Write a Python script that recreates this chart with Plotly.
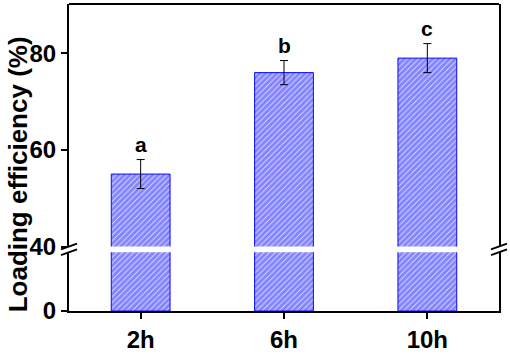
import plotly.graph_objects as go

categories = ["2h", "6h", "10h"]
values = [55, 76, 79]
err_plus = [3, 2.5, 3]
err_minus = [3, 2.5, 3]
letters = ["a", "b", "c"]
upper_ticks = [40, 60, 80]
lower_ticks = [0]

BLUE = "#0a0aff"
FONT = "Liberation Sans"

W, H = 510, 357
L, R, T, B = 69, 11, 4, 34
pw, ph = W - L - R, H - T - B

def px_x(x):
    return (x - L) / pw

def px_y(y):
    return (H - B - y) / ph

lower_dom = [0, px_y(262)]
upper_dom = [px_y(256), 1]

pattern = dict(shape="/", fgcolor=BLUE, bgcolor="white", size=4, solidity=0.85)

fig = go.Figure()
fig.add_trace(go.Bar(
    x=categories, y=values, xaxis="x", yaxis="y", width=0.41,
    marker=dict(color="white", pattern=pattern, line=dict(color=BLUE, width=1)),
    showlegend=False, hoverinfo="skip",
))
fig.add_trace(go.Bar(
    x=categories, y=values, xaxis="x2", yaxis="y2", width=0.41,
    marker=dict(color="white", pattern=pattern, line=dict(color=BLUE, width=1)),
    error_y=dict(type="data", symmetric=False, array=err_plus, arrayminus=err_minus,
                 color="black", thickness=1, width=4),
    showlegend=False, hoverinfo="skip",
))

for c, v, e, t in zip(categories, values, err_plus, letters):
    fig.add_annotation(x=c, y=v + e, xref="x2", yref="y2", text=t, showarrow=False,
                       yanchor="bottom", yshift=2,
                       font=dict(family=FONT, size=21, color="black", weight="bold"))

fig.add_annotation(x=px_x(18), y=px_y(181), xref="paper", yref="paper",
                   text="Loading efficiency (%)", textangle=-90, showarrow=False,
                   xanchor="center", yanchor="middle",
                   font=dict(family=FONT, size=26, color="black", weight="bold"))

# top frame line
fig.add_shape(type="line", xref="paper", yref="paper", x0=0, x1=1, y0=1, y1=1,
              line=dict(color="black", width=2))

# axis-break marks
for xc in (69, 499):
    for yc in (262, 256):
        fig.add_shape(type="line", xref="paper", yref="paper",
                      x0=px_x(xc - 8), y0=px_y(yc + 3), x1=px_x(xc + 8), y1=px_y(yc - 3),
                      line=dict(color="black", width=2))

axis_common = dict(showline=True, linecolor="black", linewidth=2, showgrid=False,
                   zeroline=False, ticks="outside", tickwidth=2, ticklen=6,
                   tickcolor="black",
                   tickfont=dict(family=FONT, size=24, color="black", weight="bold"))

fig.update_layout(
    width=W, height=H,
    margin=dict(l=L, r=R, t=T, b=B),
    plot_bgcolor="white", paper_bgcolor="white",
    xaxis=dict(anchor="y", range=[-0.5, 2.5], categoryorder="array",
               categoryarray=categories, **axis_common),
    xaxis2=dict(anchor="y2", matches="x", showline=False, showticklabels=False,
                ticks="", showgrid=False, zeroline=False,
                categoryorder="array", categoryarray=categories),
    yaxis=dict(domain=lower_dom, range=[0, 40], tickvals=lower_ticks, mirror=True,
               ticksuffix="\u2009", **axis_common),
    yaxis2=dict(domain=upper_dom, range=[40, 90.2], tickvals=upper_ticks, mirror=True,
                ticksuffix="\u2009", **axis_common),
    bargap=0.59,
)

fig.write_html("out.html", config={"displayModeBar": False},
               post_script="document.body.style.margin='0';document.body.style.overflow='hidden';")
